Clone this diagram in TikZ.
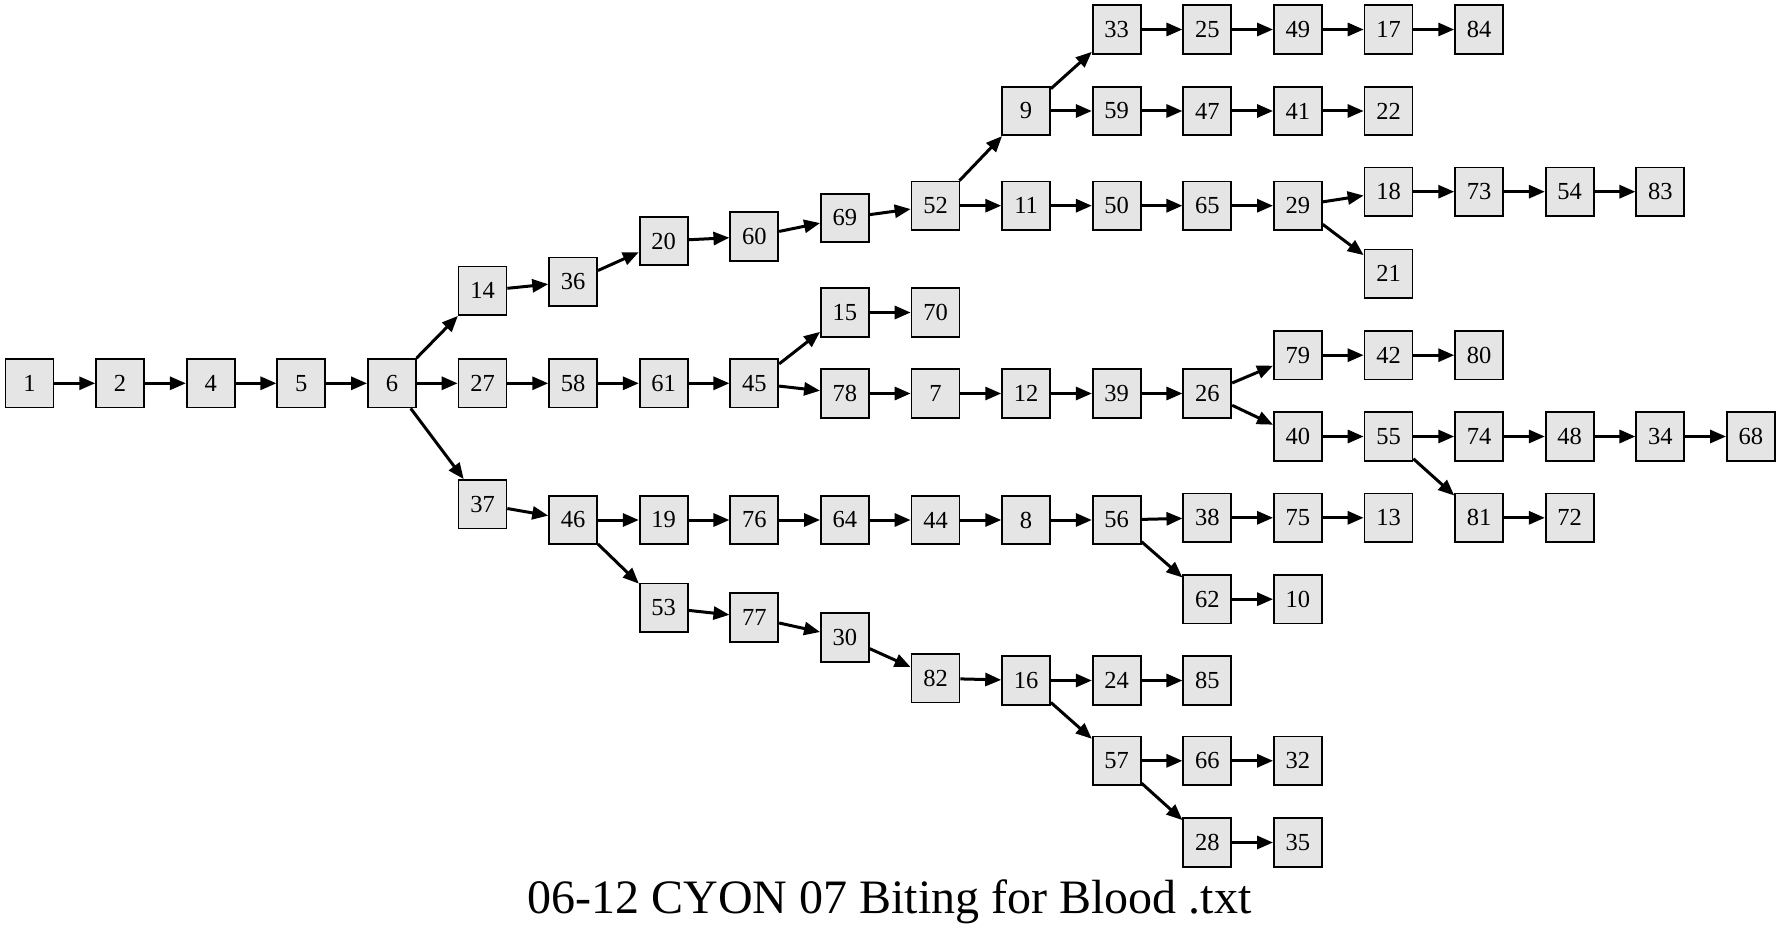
\documentclass[tikz,border=0pt]{standalone}
\usepackage{fontspec}
\setmainfont{Liberation Serif}
\usetikzlibrary{arrows.meta}
\definecolor{boxfill}{HTML}{E5E5E5}
\begin{document}
\begin{tikzpicture}[x=1pt,y=-1pt,
  nd/.style={draw=black, fill=boxfill, line width=1.7pt, minimum width=48pt, minimum height=48.5pt, inner sep=0pt, font=\fontsize{24.5}{26}\selectfont},
  ed/.style={line width=3pt, -{Triangle[length=16pt,width=13pt]}},
  ttl/.style={font=\fontsize{48}{56}\selectfont, anchor=base, inner sep=0pt}]
\useasboundingbox (0,0) rectangle (1781,931);
% columns
\def\cA{29.5}\def\cB{120.1}\def\cC{210.7}\def\cD{301.3}\def\cE{391.9}
\def\cF{482.5}\def\cG{573.1}\def\cH{663.7}\def\cI{754.3}\def\cJ{844.9}
\def\cK{935.5}\def\cL{1026.1}\def\cM{1116.7}\def\cN{1207.3}\def\cO{1297.9}
\def\cP{1388.5}\def\cQ{1479.1}\def\cR{1569.7}\def\cS{1660.3}\def\cT{1750.9}
% main row
\foreach \n/\x in {1/\cA,2/\cB,4/\cC,5/\cD,6/\cE,27/\cF,58/\cG,61/\cH,45/\cI}
  \node[nd] (n\n) at (\x,383.3) {\n};
% top branch
\node[nd] (n14) at (\cF,290.8) {14};
\node[nd] (n36) at (\cG,281.7) {36};
\node[nd] (n20) at (\cH,241) {20};
\node[nd] (n60) at (\cI,236.5) {60};
\node[nd] (n69) at (\cJ,218) {69};
\node[nd] (n52) at (\cK,205.7) {52};
\node[nd] (n9) at (\cL,111) {9};
\foreach \n/\x in {33/\cM,25/\cN,49/\cO,17/\cP,84/\cQ}
  \node[nd] (n\n) at (\x,29.5) {\n};
\foreach \n/\x in {59/\cM,47/\cN,41/\cO,22/\cP}
  \node[nd] (n\n) at (\x,111) {\n};
\foreach \n/\x in {11/\cL,50/\cM,65/\cN,29/\cO}
  \node[nd] (n\n) at (\x,205.7) {\n};
\foreach \n/\x in {18/\cP,73/\cQ,54/\cR,83/\cS}
  \node[nd] (n\n) at (\x,191.7) {\n};
\node[nd] (n21) at (\cP,273.8) {21};
% middle branch
\node[nd] (n15) at (\cJ,312.5) {15};
\node[nd] (n70) at (\cK,312.5) {70};
\foreach \n/\x in {78/\cJ,7/\cK,12/\cL,39/\cM,26/\cN}
  \node[nd] (n\n) at (\x,393.5) {\n};
\foreach \n/\x in {79/\cO,42/\cP,80/\cQ}
  \node[nd] (n\n) at (\x,355.2) {\n};
\foreach \n/\x in {40/\cO,55/\cP,74/\cQ,48/\cR,34/\cS,68/\cT}
  \node[nd] (n\n) at (\x,436.5) {\n};
\node[nd] (n81) at (\cQ,517.8) {81};
\node[nd] (n72) at (\cR,517.8) {72};
% bottom branch
\node[nd] (n37) at (\cF,504.2) {37};
\foreach \n/\x in {46/\cG,19/\cH,76/\cI,64/\cJ,44/\cK,8/\cL,56/\cM}
  \node[nd] (n\n) at (\x,520) {\n};
\foreach \n/\x in {38/\cN,75/\cO,13/\cP}
  \node[nd] (n\n) at (\x,517.8) {\n};
\node[nd] (n62) at (\cN,599.2) {62};
\node[nd] (n10) at (\cO,599.2) {10};
\node[nd] (n53) at (\cH,607.7) {53};
\node[nd] (n77) at (\cI,617.5) {77};
\node[nd] (n30) at (\cJ,637.5) {30};
\node[nd] (n82) at (\cK,678.3) {82};
\node[nd] (n16) at (\cL,680.5) {16};
\node[nd] (n24) at (\cM,680.5) {24};
\node[nd] (n85) at (\cN,680.5) {85};
\node[nd] (n57) at (\cM,760.8) {57};
\node[nd] (n66) at (\cN,760.8) {66};
\node[nd] (n32) at (\cO,760.8) {32};
\node[nd] (n28) at (\cN,842.5) {28};
\node[nd] (n35) at (\cO,842.5) {35};
% edges
\foreach \a/\b in {1/2,2/4,4/5,5/6,6/14,6/27,6/37,14/36,36/20,20/60,60/69,69/52,
  52/9,52/11,9/33,9/59,33/25,25/49,49/17,17/84,59/47,47/41,41/22,11/50,50/65,
  65/29,29/18,29/21,18/73,73/54,54/83,27/58,58/61,61/45,45/15,45/78,15/70,
  78/7,7/12,12/39,39/26,26/79,26/40,79/42,42/80,40/55,55/74,55/81,74/48,
  48/34,34/68,81/72,37/46,46/19,46/53,19/76,76/64,64/44,44/8,8/56,56/38,
  56/62,38/75,75/13,62/10,53/77,77/30,30/82,82/16,16/24,16/57,24/85,57/66,
  57/28,66/32,28/35}
  \draw[ed] (n\a) -- (n\b);
\node[ttl] (title) at (889.5,913) {06-12 CYON 07 Biting for Blood .txt};
\end{tikzpicture}
\end{document}
